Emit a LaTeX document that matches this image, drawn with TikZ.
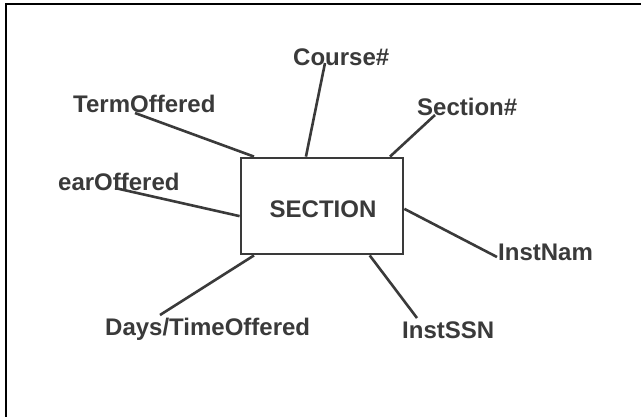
\documentclass[tikz,border=0pt]{standalone}
\usepackage{fontspec}
\setmainfont{Liberation Sans}
\usetikzlibrary{calc}
\definecolor{ink}{HTML}{3A3A3A}
\tikzset{
  attr/.style={inner sep=0pt, anchor=base west, text=ink,
    font=\fontsize{24}{29}\selectfont\bfseries},
  entity/.style={draw=ink, line width=2.8pt, minimum width=162pt,
    minimum height=96pt, inner sep=0pt, text=ink},
  title/.style={anchor=base, inner sep=0pt, text=ink,
    font=\fontsize{24}{29}\selectfont\bfseries},
  link/.style={draw=ink, line width=2.6pt},
  frame/.style={draw=black, line width=2.6pt}
}
\begin{document}
\begin{tikzpicture}[x=1pt, y=-1pt]
  \useasboundingbox (0,0) rectangle (641,416);
  \fill[white] (0,0) rectangle (641,416);
  % page frame (top and left edges)
  \draw[frame] (6,417) -- (6,4) -- (642,4);

  % entity
  \node[entity] (sec) at (322,206) {};
  \node[title] (sectitle) at (323,217) {SECTION};

  % attributes
  \node[attr] (term)   at (73,112)  {TermOffered};
  \node[attr] (course) at (293,65)  {Course\#};
  \node[attr] (secno)  at (417,115) {Section\#};
  \node[attr] (year)   at (58,190)  {earOffered};
  \node[attr] (inam)   at (498,260) {InstNam};
  \node[attr] (issn)   at (402,338) {InstSSN};
  \node[attr] (days)   at (105,335) {Days/TimeOffered};

  % connectors
  \draw[link] (sec.144.6) -- ($(term.base west)+(62,1)$);
  \draw[link] (sec.108.4) -- ($(course.base west)+(32,-2)$);
  \draw[link] (sec.36)    -- ($(secno.base west)+(18,0)$);
  \draw[link] (sec.187.6) -- ($(year.base west)+(57,-2)$);
  \draw[link] (sec.358.6) -- ($(inam.base west)+(-1,-3)$);
  \draw[link] (sec.314.4) -- ($(issn.base west)+(15,-20)$);
  \draw[link] (sec.216.2) -- ($(days.base west)+(55,-20)$);
\end{tikzpicture}
\end{document}
